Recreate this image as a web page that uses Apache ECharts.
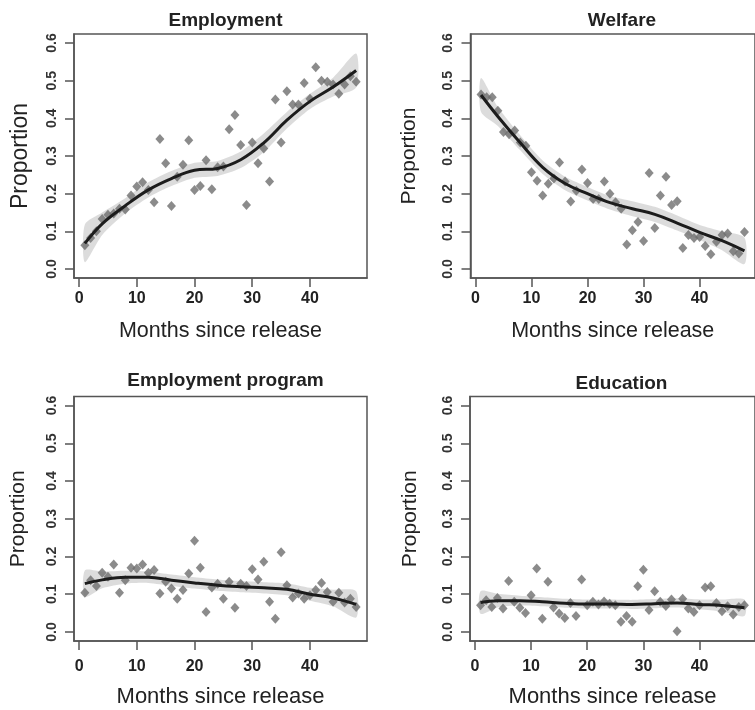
<!DOCTYPE html>
<html><head><meta charset="utf-8">
<script src="https://cdn.jsdelivr.net/npm/echarts@6/dist/echarts.min.js"></script>
<style>html,body{margin:0;padding:0;background:#fff}#c{width:755px;height:710px}</style>
</head><body><div id="c"></div>
<script>
const months = [1,2,3,4,5,6,7,8,9,10,11,12,13,14,15,16,17,18,19,20,21,22,23,24,25,26,27,28,29,30,31,32,33,34,35,36,37,38,39,40,41,42,43,44,45,46,47,48];
const fitMonths = [1,4,8,12,16,20,24,28,32,36,40,44,48];
const xTicks = [0,10,20,30,40];
const yTicks = [0,0.1,0.2,0.3,0.4,0.5,0.6];
const panelTitles = ['Employment','Welfare','Employment program','Education'];
const yName = 'Proportion';
const xName = 'Months since release';

const employment = [0.063,0.082,0.100,0.133,0.144,0.147,0.160,0.158,0.195,0.219,0.230,0.210,0.177,0.345,0.281,0.167,0.245,0.277,0.342,0.210,0.220,0.289,0.212,0.270,0.272,0.371,0.409,0.329,0.170,0.336,0.281,0.320,0.232,0.450,0.336,0.472,0.437,0.437,0.494,0.452,0.536,0.500,0.497,0.490,0.465,0.490,0.512,0.497];
const welfare = [0.463,0.456,0.456,0.420,0.364,0.358,0.368,0.336,0.327,0.257,0.234,0.195,0.226,0.240,0.283,0.232,0.179,0.208,0.264,0.228,0.186,0.186,0.232,0.200,0.177,0.160,0.065,0.103,0.125,0.074,0.255,0.109,0.195,0.245,0.170,0.180,0.056,0.090,0.082,0.085,0.061,0.039,0.072,0.090,0.094,0.047,0.041,0.098];
const employmentProgram = [0.104,0.137,0.122,0.157,0.146,0.179,0.104,0.137,0.170,0.168,0.179,0.157,0.164,0.102,0.133,0.115,0.088,0.111,0.155,0.242,0.170,0.053,0.118,0.128,0.088,0.133,0.064,0.128,0.122,0.166,0.139,0.186,0.080,0.035,0.211,0.124,0.091,0.102,0.088,0.097,0.111,0.130,0.106,0.080,0.104,0.078,0.088,0.066];
const education = [0.071,0.084,0.066,0.090,0.062,0.135,0.080,0.064,0.050,0.097,0.168,0.035,0.133,0.065,0.049,0.037,0.077,0.042,0.139,0.071,0.080,0.073,0.081,0.075,0.071,0.027,0.042,0.027,0.121,0.165,0.058,0.108,0.080,0.069,0.086,0.002,0.088,0.062,0.053,0.071,0.118,0.121,0.077,0.055,0.068,0.046,0.066,0.071];

const employmentFit = [0.068,0.120,0.168,0.210,0.240,0.262,0.267,0.290,0.335,0.395,0.445,0.483,0.527];
const employmentLo  = [0.018,0.090,0.148,0.190,0.220,0.242,0.247,0.268,0.310,0.373,0.425,0.458,0.482];
const employmentHi  = [0.118,0.150,0.188,0.230,0.260,0.282,0.287,0.312,0.360,0.417,0.465,0.508,0.572];
const welfareFit = [0.462,0.405,0.335,0.270,0.227,0.200,0.176,0.160,0.145,0.122,0.097,0.075,0.048];
const welfareLo  = [0.417,0.380,0.315,0.252,0.209,0.182,0.158,0.140,0.125,0.102,0.077,0.050,0.013];
const welfareHi  = [0.507,0.430,0.355,0.288,0.245,0.218,0.194,0.180,0.165,0.142,0.117,0.100,0.083];
const programFit = [0.128,0.138,0.145,0.145,0.137,0.130,0.124,0.120,0.117,0.113,0.100,0.090,0.073];
const programLo  = [0.093,0.116,0.128,0.130,0.122,0.115,0.109,0.105,0.102,0.097,0.083,0.068,0.038];
const programHi  = [0.163,0.160,0.162,0.160,0.152,0.145,0.139,0.135,0.132,0.129,0.117,0.112,0.108];
const educationFit = [0.078,0.083,0.083,0.080,0.076,0.074,0.074,0.073,0.075,0.077,0.073,0.070,0.064];
const educationLo  = [0.048,0.065,0.070,0.068,0.064,0.062,0.062,0.061,0.063,0.065,0.060,0.054,0.042];
const educationHi  = [0.108,0.101,0.096,0.092,0.088,0.086,0.086,0.085,0.087,0.089,0.086,0.086,0.086];

const panels = [
  {title: panelTitles[0], pts: employment, fit: employmentFit, lo: employmentLo, hi: employmentHi},
  {title: panelTitles[1], pts: welfare, fit: welfareFit, lo: welfareLo, hi: welfareHi},
  {title: panelTitles[2], pts: employmentProgram, fit: programFit, lo: programLo, hi: programHi},
  {title: panelTitles[3], pts: education, fit: educationFit, lo: educationLo, hi: educationHi}
];
// layout (pixels)
const layout = [
  {left: 74, top: 34, w: 293, h: 244, titleY: 6, xLabMargin: 13, xNameGap: 42, yNameGap: 42, ySize: 23, xSize: 21.5},
  {left: 470.5, top: 34, w: 293, h: 244, titleY: 6, xLabMargin: 13, xNameGap: 42, yNameGap: 51, ySize: 21, xSize: 21.5},
  {left: 74, top: 396.5, w: 293, h: 244.5, titleY: 366, xLabMargin: 18, xNameGap: 45, yNameGap: 45, ySize: 21, xSize: 22},
  {left: 470, top: 396.5, w: 293, h: 244.5, titleY: 369, xLabMargin: 18, xNameGap: 45, yNameGap: 49, ySize: 21, xSize: 22}
];
const FONT = '"Liberation Sans", Arial, Helvetica, sans-serif';

function bandRenderer(p) {
  return function (params, api) {
    if (params.dataIndex !== 0) return null;
    const upper = fitMonths.map((m, k) => api.coord([m, p.hi[k]]));
    const lower = fitMonths.map((m, k) => api.coord([m, p.lo[k]])).reverse();
    return {
      type: 'group',
      children: [{
        type: 'polygon',
        shape: {points: upper.concat(lower), smooth: 0.25},
        style: {fill: '#d8d8d8', opacity: 0.9},
        silent: true
      }]
    };
  };
}

const option = {animation: false, backgroundColor: '#fff', title: [], grid: [], xAxis: [], yAxis: [], series: []};
panels.forEach((p, i) => {
  const L = layout[i];
  option.title.push({text: p.title, left: L.left + L.w / 2, top: L.titleY, textAlign: 'center',
    textStyle: {fontFamily: FONT, fontWeight: 'bold', fontSize: 19, color: '#222'}});
  option.grid.push({left: L.left, top: L.top, width: L.w, height: L.h, show: true,
    borderColor: '#555', borderWidth: 1.5, backgroundColor: 'transparent', containLabel: false});
  option.xAxis.push({type: 'value', gridIndex: i, min: -0.88, max: 49.88,
    name: xName, nameLocation: 'middle', nameGap: L.xNameGap,
    nameTextStyle: {fontFamily: FONT, fontSize: L.xSize, color: '#222'},
    axisLine: {show: true, onZero: false, lineStyle: {color: '#555', width: 1.5}},
    axisTick: {show: true, length: 9, customValues: xTicks, lineStyle: {color: '#555', width: 1.5}},
    axisLabel: {customValues: xTicks, margin: L.xLabMargin, fontFamily: FONT, fontWeight: 'bold', fontSize: 16, color: '#222'},
    splitLine: {show: false}});
  option.yAxis.push({type: 'value', gridIndex: i, min: -0.024, max: 0.624,
    name: yName, nameLocation: 'middle', nameGap: L.yNameGap, nameRotate: 90,
    nameTextStyle: {fontFamily: FONT, fontSize: L.ySize, color: '#222'},
    axisLine: {show: true, onZero: false, lineStyle: {color: '#555', width: 1.5}},
    axisTick: {show: true, length: 9, customValues: yTicks, lineStyle: {color: '#555', width: 1.5}},
    axisLabel: {customValues: yTicks, rotate: 90, margin: 15, fontFamily: FONT, fontWeight: 'bold', fontSize: 14, color: '#333',
      formatter: v => v.toFixed(1)},
    splitLine: {show: false}});
  option.series.push({type: 'custom', xAxisIndex: i, yAxisIndex: i, renderItem: bandRenderer(p),
    data: fitMonths.map((m, k) => [m, p.lo[k], p.hi[k]]), encode: {x: 0, y: [1, 2]}, z: 1, silent: true, clip: true});
  option.series.push({type: 'scatter', xAxisIndex: i, yAxisIndex: i, symbol: 'diamond', symbolSize: [9, 10],
    itemStyle: {color: '#6e6e6e'}, data: months.map((m, k) => [m, p.pts[k]]), z: 2});
  option.series.push({type: 'line', xAxisIndex: i, yAxisIndex: i, smooth: 0.4, symbol: 'none',
    lineStyle: {color: '#1c1c1c', width: 3}, data: fitMonths.map((m, k) => [m, p.fit[k]]), z: 3});
});
const chart = echarts.init(document.getElementById('c'), null, {renderer: 'canvas'});
chart.setOption(option);
</script></body></html>
